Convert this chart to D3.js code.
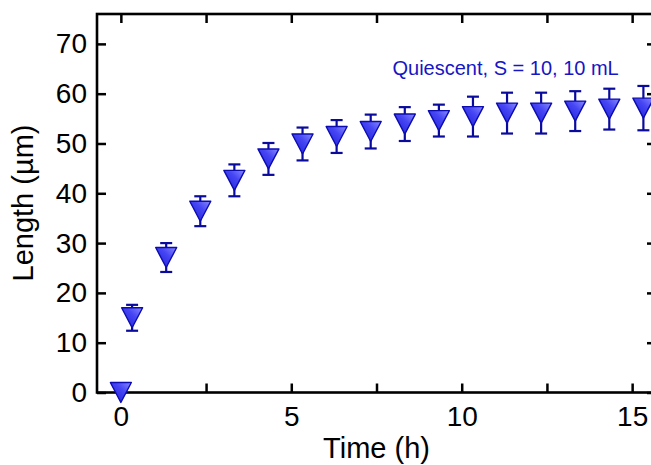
<!DOCTYPE html>
<html>
<head>
<meta charset="utf-8">
<script src="https://cdn.jsdelivr.net/npm/d3@7"></script>
<style>
body { margin: 0; background: #fff; }
svg { display: block; font-family: "Liberation Sans", Arial, sans-serif; }
</style>
</head>
<body>
<svg width="651" height="465"></svg>
<script>
// growth curve, quiescent case
var times = [0, 0.33, 1.33, 2.33, 3.33, 4.33, 5.33, 6.33, 7.33, 8.33, 9.33, 10.33, 11.33, 12.33, 13.33, 14.33, 15.33];
var lengths = [0, 15.0, 27.1, 36.4, 42.6, 46.9, 49.9, 51.4, 52.4, 53.9, 54.6, 55.4, 56.1, 56.1, 56.5, 56.9, 57.1];
var errors = [0, 2.6, 2.9, 3.0, 3.2, 3.2, 3.3, 3.3, 3.4, 3.4, 3.2, 4.0, 4.1, 4.1, 4.0, 4.1, 4.45];

var xTicks = [0, 2.5, 5, 7.5, 10, 12.5, 15];
var xLabels = [0, 5, 10, 15];
var yTicks = [0, 10, 20, 30, 40, 50, 60, 70];

var seriesLabel = "Quiescent, S = 10, 10 mL";
var xTitle = "Time (h)";
var yTitle = "Length (\u00b5m)";

var svg = d3.select("svg");

// plot box (right edge falls just outside the picture)
var pLeft = 97, pRight = 656, pTop = 14, pBottom = 392.5;

var x = d3.scaleLinear().domain([-0.7, 15.7]).range([pLeft, pRight]);
var y = d3.scaleLinear().domain([0, 76]).range([pBottom, pTop]);

var data = times.map(function (t, i) {
    return { t: t, v: lengths[i], e: errors[i] };
});

// marker gradient
var grad = svg.append("defs")
    .append("linearGradient")
    .attr("id", "triFill")
    .attr("x1", "0%").attr("y1", "100%")
    .attr("x2", "100%").attr("y2", "0%");
grad.append("stop").attr("offset", "0%").attr("stop-color", "#1a1ad6");
grad.append("stop").attr("offset", "60%").attr("stop-color", "#4646f4");
grad.append("stop").attr("offset", "100%").attr("stop-color", "#8a8aff");

// axes (ticks pointing inwards)
function fmtBottom(d) { return xLabels.indexOf(d) >= 0 ? d : ""; }

svg.append("g")
    .attr("transform", "translate(0," + pBottom + ")")
    .call(d3.axisBottom(x).tickValues(xTicks).tickSizeInner(-9).tickSizeOuter(0).tickPadding(14).tickFormat(fmtBottom));

svg.append("g")
    .attr("transform", "translate(0," + pTop + ")")
    .call(d3.axisTop(x).tickValues(xTicks).tickSizeInner(-9).tickSizeOuter(0).tickFormat(""));

svg.append("g")
    .attr("transform", "translate(" + pLeft + ",0)")
    .call(d3.axisLeft(y).tickValues(yTicks).tickSizeInner(-9).tickSizeOuter(0).tickPadding(10));

svg.append("g")
    .attr("transform", "translate(" + pRight + ",0)")
    .call(d3.axisRight(y).tickValues(yTicks).tickSizeInner(-9).tickSizeOuter(0).tickFormat(""));

svg.selectAll(".domain").remove();
svg.selectAll(".tick line").attr("stroke", "#000").attr("stroke-width", 2.5);
svg.selectAll(".tick text")
    .attr("fill", "#000")
    .style("font-size", "28px")
    .style("font-family", "'Liberation Sans', Arial, sans-serif");

svg.append("rect")
    .attr("x", pLeft).attr("y", pTop)
    .attr("width", pRight - pLeft).attr("height", pBottom - pTop)
    .attr("fill", "none")
    .attr("stroke", "#000")
    .attr("stroke-width", 2.6);

// error bars
var bars = svg.selectAll(".err")
    .data(data.filter(function (d) { return d.e > 0; }))
    .enter()
    .append("g")
    .attr("class", "err")
    .attr("stroke", "#0a0a9c")
    .attr("stroke-width", 2.2);

bars.append("line")
    .attr("x1", function (d) { return x(d.t); })
    .attr("x2", function (d) { return x(d.t); })
    .attr("y1", function (d) { return y(d.v + d.e); })
    .attr("y2", function (d) { return y(d.v - d.e); });

bars.append("line")
    .attr("x1", function (d) { return x(d.t) - 6; })
    .attr("x2", function (d) { return x(d.t) + 6; })
    .attr("y1", function (d) { return y(d.v + d.e); })
    .attr("y2", function (d) { return y(d.v + d.e); });

bars.append("line")
    .attr("x1", function (d) { return x(d.t) - 6; })
    .attr("x2", function (d) { return x(d.t) + 6; })
    .attr("y1", function (d) { return y(d.v - d.e); })
    .attr("y2", function (d) { return y(d.v - d.e); });

// down triangles
svg.selectAll(".pt")
    .data(data)
    .enter()
    .append("path")
    .attr("class", "pt")
    .attr("d", "M-10.5,-10L10.5,-10L0,10Z")
    .attr("transform", function (d) { return "translate(" + x(d.t) + "," + y(d.v) + ")"; })
    .attr("fill", "url(#triFill)")
    .attr("stroke", "#0b0bb0")
    .attr("stroke-width", 1.4)
    .attr("stroke-linejoin", "round");

// series label
svg.append("text")
    .attr("x", 392.5)
    .attr("y", 75)
    .attr("fill", "#1616c4")
    .style("font-size", "20px")
    .text(seriesLabel);

// axis titles
svg.append("text")
    .attr("x", 376.5)
    .attr("y", 458)
    .attr("text-anchor", "middle")
    .style("font-size", "29px")
    .text(xTitle);

svg.append("text")
    .attr("transform", "translate(33,203) rotate(-90)")
    .attr("text-anchor", "middle")
    .style("font-size", "29px")
    .text(yTitle);
</script>
</body>
</html>
